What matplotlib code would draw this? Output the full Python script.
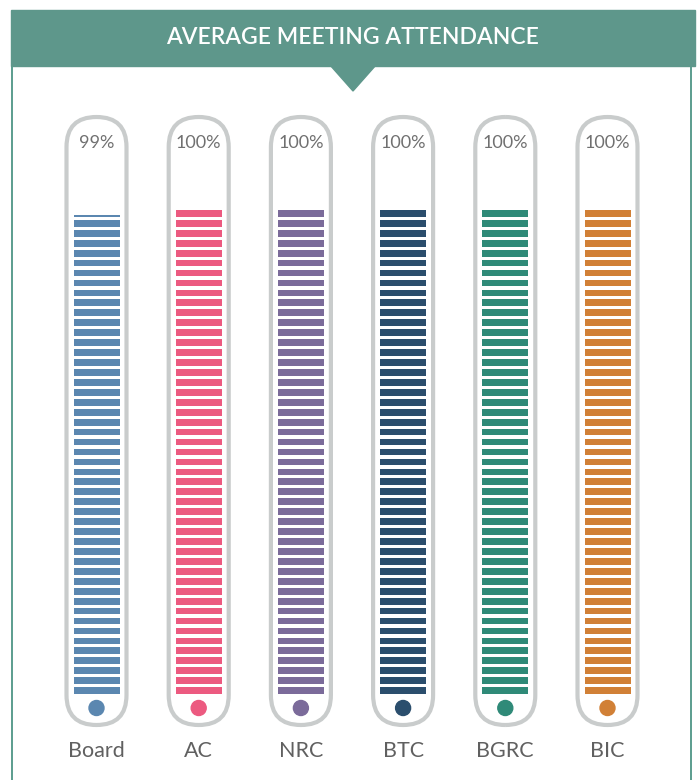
import matplotlib
matplotlib.use("Agg")
import matplotlib.pyplot as plt
from matplotlib.patches import FancyBboxPatch, Rectangle, Polygon, Circle

# data
categories = ["Board", "AC", "NRC", "BTC", "BGRC", "BIC"]
attendance = [99, 100, 100, 100, 100, 100]
labels = ["99%", "100%", "100%", "100%", "100%", "100%"]
colors = ["#5b87b0", "#ec5a80", "#7b6b9a", "#2b4e6d", "#2f8a78", "#d18036"]

title = "AVERAGE MEETING ATTENDANCE"
header_color = "#5e978b"
frame_color = "#3f8c7b"
tube_color = "#c9cccc"

fig = plt.figure(figsize=(6.98, 7.80), dpi=100)
ax = fig.add_axes([0, 0, 1, 1])
ax.set_xlim(0, 698)
ax.set_ylim(780, 0)
ax.axis("off")

# header band + pointer
ax.add_patch(Rectangle((11, 10), 684, 56, color=header_color, zorder=2))
ax.add_patch(Polygon([[330, 65], [376, 65], [353, 91]], closed=True,
                     color=header_color, zorder=2))
ax.plot([12, 12], [66, 780], color=frame_color, lw=1.2, zorder=1)
ax.plot([691, 691], [66, 780], color=frame_color, lw=1.2, zorder=1)
ax.text(352, 37, title, color="white", fontsize=16.5, fontfamily="Lato",
        fontweight="semibold", ha="center", va="center", zorder=3)

x0 = 96.5
step = 102.2
bar_bottom = 694
full_h = 484
n_stripes = 49
period = full_h / (n_stripes - 0.32)
thick = period * 0.68

for i, (cat, val, lab, col) in enumerate(zip(categories, attendance, labels, colors)):
    cx = x0 + i * step
    # tube outline
    tube = FancyBboxPatch((cx - 30, 117), 60, 608,
                          boxstyle="round,pad=0,rounding_size=30",
                          facecolor="white", edgecolor=tube_color,
                          linewidth=3.0, zorder=2)
    ax.add_patch(tube)

    # striped fill
    top = bar_bottom - val / 100 * full_h
    for k in range(n_stripes):
        sb = bar_bottom - k * period
        st = sb - thick
        if sb <= top + 0.01:
            break
        st = max(st, top)
        ax.bar(cx, st - sb, bottom=sb, width=46, color=col,
               linewidth=0, zorder=3)

    ax.add_patch(Circle((cx, 708), 7.5, color=col, zorder=3))
    ax.text(cx, 143, lab, color="#707070", fontsize=13, fontfamily="Lato",
            ha="center", va="center", zorder=3)
    ax.text(cx, 751, cat, color="#606060", fontsize=15.5, fontfamily="Lato",
            ha="center", va="center", zorder=3)

fig.savefig("out.png", dpi=100, facecolor="white")
